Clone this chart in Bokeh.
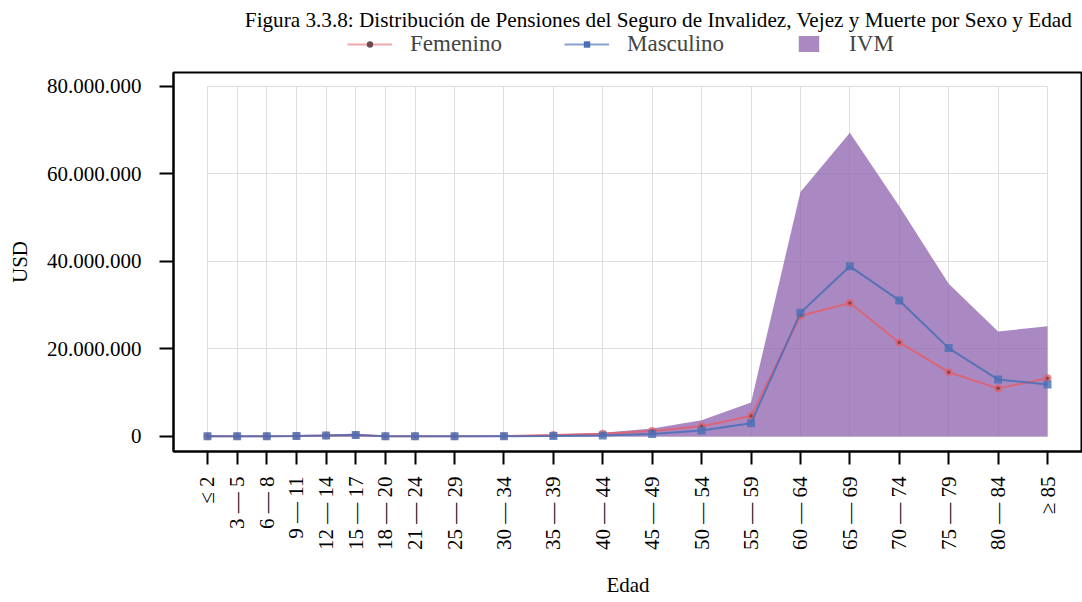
import math
from bokeh.plotting import figure
from bokeh.layouts import column
from bokeh.models import Range1d, FixedTicker, Legend, LegendItem, Label, ColumnDataSource
from bokeh.embed import file_html
from bokeh.resources import INLINE

titulo = "Figura 3.3.8: Distribución de Pensiones del Seguro de Invalidez, Vejez y Muerte por Sexo y Edad"
grupos = ["≤ 2", "3 — 5", "6 — 8", "9 — 11", "12 — 14", "15 — 17", "18 — 20", "21 — 24",
          "25 — 29", "30 — 34", "35 — 39", "40 — 44", "45 — 49", "50 — 54", "55 — 59",
          "60 — 64", "65 — 69", "70 — 74", "75 — 79", "80 — 84", "≥ 85"]
edad_inicio = [0, 3, 6, 9, 12, 15, 18, 21, 25, 30, 35, 40, 45, 50, 55, 60, 65, 70, 75, 80, 85]
femenino = [50_000, 60_000, 70_000, 100_000, 220_000, 350_000, 40_000, 40_000, 50_000, 120_000,
            350_000, 620_000, 1_250_000, 2_350_000, 4_700_000, 27_600_000, 30_500_000,
            21_500_000, 14_700_000, 11_000_000, 13_300_000]
masculino = [40_000, 50_000, 60_000, 90_000, 200_000, 320_000, 30_000, 30_000, 40_000, 80_000,
             120_000, 250_000, 550_000, 1_380_000, 3_050_000, 28_300_000, 38_900_000,
             31_100_000, 20_200_000, 13_000_000, 11_900_000]
ivm = [90_000, 110_000, 130_000, 190_000, 420_000, 670_000, 70_000, 70_000, 90_000, 200_000,
       470_000, 870_000, 1_800_000, 3_730_000, 7_750_000, 55_900_000, 69_400_000,
       52_600_000, 34_900_000, 24_000_000, 25_200_000]
y_ticks = [0, 20_000_000, 40_000_000, 60_000_000, 80_000_000]
y_tick_labels = ["0", "20.000.000", "40.000.000", "60.000.000", "80.000.000"]

FONT = "Liberation Serif"
FEM_C, MASC_C, IVM_C = "#e35f6b", "#4a6fb5", "#956cb4"
x_pos = [e + 1 for e in edad_inicio]
src = ColumnDataSource(dict(x=x_pos, fem=femenino, masc=masculino, ivm=ivm))

# ---------------- header: title + legend ----------------
# (the column aligns this header's frame with the chart's frame, 173px from the left)
head = figure(width=1082, height=64, output_backend="svg", toolbar_location=None,
              x_range=Range1d(0, 1), y_range=Range1d(0, 1), x_axis_type=None, y_axis_type=None,
              min_border_left=0, min_border_right=0, min_border_top=0, min_border_bottom=0)
head.outline_line_color = None
head.background_fill_color = "white"
head.border_fill_color = "white"
head.xgrid.visible = False
head.ygrid.visible = False
head.add_layout(Label(x=485, y=45, x_units="screen", y_units="screen", text=titulo,
                      text_font=FONT, text_font_size="21.2px", text_align="center",
                      text_baseline="middle", text_color="black"))
# legend keys (their data lie outside this header's ranges, so only the legend shows them)
k_lf = head.line("x", "fem", source=src, line_color=FEM_C, line_width=2, line_alpha=0.55)
k_df = head.scatter("x", "fem", source=src, marker="circle", size=5, fill_color="#6b4a50",
                    line_color=None)
k_lm = head.line("x", "masc", source=src, line_color=MASC_C, line_width=2, line_alpha=0.65)
k_sm = head.scatter("x", "masc", source=src, marker="square", size=7, fill_color=MASC_C,
                    line_color=None)
k_iv = head.scatter("x", "ivm", source=src, marker="square", size=6, fill_color="#aa89c3",
                    line_color="#aa89c3", line_width=14, line_join="miter")
leg = Legend(items=[LegendItem(label="Femenino", renderers=[k_lf, k_df]),
                    LegendItem(label="Masculino", renderers=[k_lm, k_sm]),
                    LegendItem(label="IVM", renderers=[k_iv])],
             location=(174, 7), orientation="horizontal", glyph_width=45, glyph_height=16,
             label_standoff=18, spacing=62, padding=0, margin=0, border_line_color=None,
             background_fill_alpha=0, label_text_font=FONT, label_text_font_size="23px",
             label_height=25)
head.add_layout(leg)

# ---------------- main chart ----------------
p = figure(width=1082, height=538, output_backend="svg", toolbar_location=None,
           x_range=Range1d(-2.44, 89.54), y_range=Range1d(-3.43e6, 83.2e6),
           min_border_left=173, min_border_right=0, min_border_top=8, min_border_bottom=151)
p.background_fill_color = "white"
p.border_fill_color = "white"
p.outline_line_color = "black"
p.outline_line_width = 2

p.varea(x="x", y1=0, y2="ivm", source=src, fill_color=IVM_C, fill_alpha=0.8)
p.line("x", "fem", source=src, line_color=FEM_C, line_width=2, line_alpha=0.85)
p.scatter("x", "fem", source=src, marker="circle", size=8, fill_color=FEM_C,
          fill_alpha=0.75, line_color=None)
p.scatter("x", "fem", source=src, marker="circle", size=3.5, fill_color="#6b3d44",
          fill_alpha=0.8, line_color=None)
p.line("x", "masc", source=src, line_color=MASC_C, line_width=2, line_alpha=0.85)
p.scatter("x", "masc", source=src, marker="square", size=8, fill_color=MASC_C,
          fill_alpha=0.8, line_color=None)

for ax in (p.xaxis[0], p.yaxis[0]):
    ax.axis_line_color = "black"
    ax.axis_line_width = 2
    ax.major_tick_line_color = "black"
    ax.major_tick_line_width = 2
    ax.major_tick_in = 0
    ax.minor_tick_line_color = None
    ax.major_label_text_font = FONT
    ax.major_label_text_font_size = "21px"
    ax.major_label_text_color = "black"
    ax.axis_label_text_font = FONT
    ax.axis_label_text_font_size = "21px"
    ax.axis_label_text_font_style = "normal"
    ax.axis_label_text_color = "black"

p.xaxis.ticker = FixedTicker(ticks=x_pos)
p.xaxis.major_label_overrides = {x: g for x, g in zip(x_pos, grupos)}
p.xaxis.major_label_orientation = math.pi / 2
p.xaxis.major_tick_out = 13
p.xaxis.major_label_standoff = 12
p.xaxis.axis_label = "Edad"
p.xaxis.axis_label_standoff = 20

p.yaxis.ticker = FixedTicker(ticks=y_ticks)
p.yaxis.major_label_overrides = {t: l for t, l in zip(y_ticks, y_tick_labels)}
p.yaxis.major_tick_out = 14
p.yaxis.major_label_standoff = 18
p.yaxis.axis_label = "USD"
p.yaxis.axis_label_standoff = 12

p.xgrid.grid_line_color = "#dddddd"
p.ygrid.grid_line_color = "#dddddd"
p.xgrid.grid_line_width = 1
p.ygrid.grid_line_width = 1
p.xgrid.cross_bounds = (y_ticks[0], y_ticks[-1])
p.ygrid.cross_bounds = (x_pos[0], x_pos[-1])

layout = column(head, p, spacing=0)
open("out.html", "w").write(file_html(layout, INLINE))
